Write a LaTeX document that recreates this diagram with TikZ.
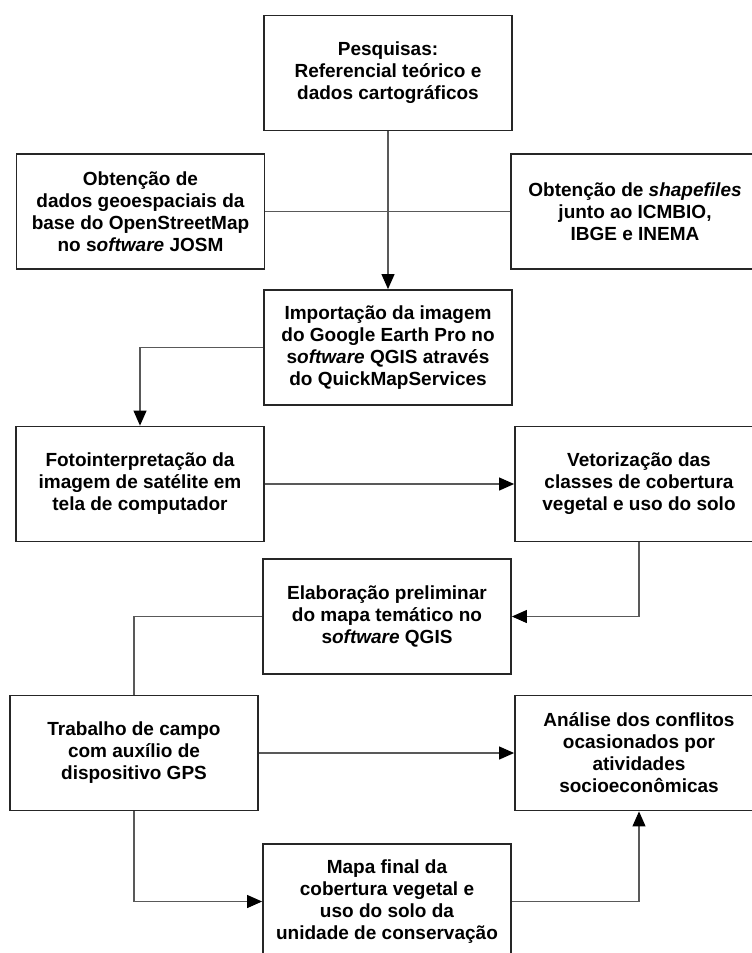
\documentclass[tikz,border=0pt]{standalone}
\usepackage{fontspec}
\setmainfont{Liberation Sans}
\usetikzlibrary{arrows.meta, positioning}

\begin{document}
\begin{tikzpicture}[x=1pt, y=-1pt,
    box/.style={draw=black!85, line width=1.8pt, minimum width=248pt, minimum height=115pt,
                align=center, inner sep=2pt, font=\fontsize{19}{22}\selectfont\bfseries},
    arr/.style={draw=black!65, line width=1.1pt, -{Triangle[length=15pt, width=13pt, color=black]}},
    ln/.style={draw=black!65, line width=1.1pt}]
    \useasboundingbox (0,0) rectangle (752,953);
    \fill[white] (0,0) rectangle (752,953);
    % boxes
    \node[box] (pesq) at (388, 73) {Pesquisas:\\Referencial teórico e\\dados cartográficos};
    \node[box] (osm)  at (140.5, 211.5) {Obtenção de\\dados geoespaciais da\\base do OpenStreetMap\\no s\textit{oftware} JOSM};
    \node[box] (shp)  at (635, 211.5) {Obtenção de \textit{shapefiles}\\junto ao ICMBIO,\\IBGE e INEMA};
    \node[box] (imp)  at (388, 347.5) {Importação da imagem\\do Google Earth Pro no\\s\textit{oftware} QGIS através\\do QuickMapServices};
    \node[box] (foto) at (140, 484) {Fotointerpretação da\\imagem de satélite em\\tela de computador};
    \node[box] (vet)  at (639, 484) {Vetorização das\\classes de cobertura\\vegetal e uso do solo};
    \node[box] (elab) at (387, 616.5) {Elaboração preliminar\\do mapa temático no\\s\textit{oftware} QGIS};
    \node[box] (trab) at (134, 753) {Trabalho de campo\\com auxílio de\\dispositivo GPS};
    \node[box] (anal) at (639, 753) {Análise dos conflitos\\ocasionados por\\atividades\\socioeconômicas};
    \node[box] (mapa) at (387, 901.5) {Mapa final da\\cobertura vegetal e\\uso do solo da\\unidade de conservação};
    % connectors
    \draw[ln]  (osm.east) -- (shp.west);
    \draw[arr] (pesq.south) -- (imp.north);
    \draw[arr] (imp.west) -| (foto.north);
    \draw[arr] (foto.east) -- (vet.west);
    \draw[arr] (vet.south) |- (elab.east);
    \draw[ln]  (elab.west) -| (trab.north);
    \draw[arr] (trab.east) -- (anal.west);
    \draw[arr] (trab.south) |- (mapa.west);
    \draw[arr] (mapa.east) -| (anal.south);
\end{tikzpicture}
\end{document}
